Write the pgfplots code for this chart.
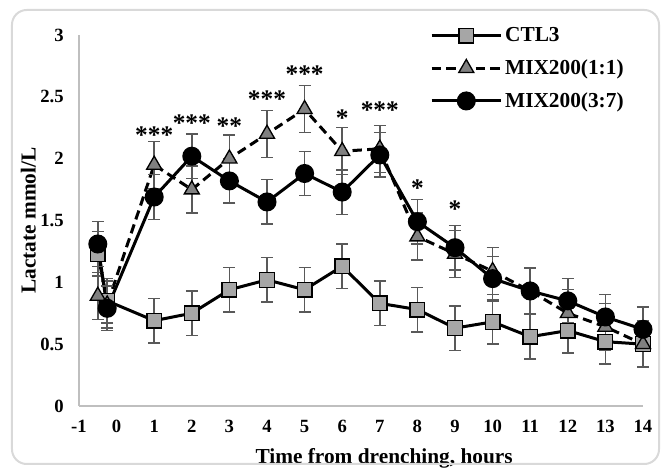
\documentclass[border=0pt]{standalone}
\usepackage{fontspec}
\setmainfont{Liberation Serif}
\usepackage{pgfplots}
\pgfplotsset{compat=1.18}
\usepackage{pgfplotstable}
\pgfplotsset{/pgf/number format/assume math mode=true}

\definecolor{sqfill}{HTML}{A6A6A6}
\definecolor{trifill}{HTML}{808080}
\definecolor{errc}{HTML}{595959}
\definecolor{axc}{HTML}{BFBFBF}
\definecolor{framec}{HTML}{D9D9D9}

% time (h), mean, error
\pgfplotstableread{
x y e
-0.5 1.23 0.18
-0.25 0.85 0.18
1 0.69 0.18
2 0.75 0.18
3 0.94 0.18
4 1.02 0.18
5 0.94 0.18
6 1.13 0.18
7 0.83 0.18
8 0.78 0.18
9 0.63 0.18
10 0.68 0.18
11 0.56 0.18
12 0.61 0.18
13 0.52 0.18
14 0.50 0.18
}\ctl

\pgfplotstableread{
x y e
-0.5 0.89 0.19
-0.25 0.82 0.19
1 1.95 0.19
2 1.75 0.19
3 2.00 0.19
4 2.20 0.19
5 2.40 0.19
6 2.06 0.19
7 2.08 0.19
8 1.37 0.19
9 1.23 0.19
10 1.09 0.19
11 0.93 0.19
12 0.75 0.19
13 0.64 0.19
14 0.50 0.19
}\mixa

\pgfplotstableread{
x y e
-0.5 1.31 0.18
-0.25 0.79 0.18
1 1.69 0.18
2 2.02 0.18
3 1.82 0.18
4 1.65 0.18
5 1.88 0.18
6 1.73 0.18
7 2.03 0.18
8 1.49 0.18
9 1.28 0.18
10 1.03 0.18
11 0.93 0.18
12 0.85 0.18
13 0.72 0.18
14 0.62 0.18
}\mixb

\tikzset{star/.style={font=\bfseries\fontsize{19}{19}\selectfont, inner sep=0pt}}

\begin{document}
\begin{tikzpicture}
\begin{axis}[
    scale only axis,
    width=423pt, height=278.25pt,
    xmin=-1, xmax=14, ymin=0, ymax=3,
    xtick={-1,0,...,14},
    ytick={0,0.5,...,3},
    axis x line*=bottom, axis y line*=left,
    axis line style={axc, line width=1pt},
    major tick length=0pt,
    clip=false,
    ticklabel style={font=\bfseries\fontsize{14}{14}\selectfont},
    yticklabel style={xshift=-8pt},
    xticklabel style={yshift=-7pt},
    xlabel={Time from drenching, hours},
    ylabel={Lactate mmol/L},
    label style={font=\bfseries\fontsize{16}{16}\selectfont},
    xlabel style={at={(axis description cs:0.541,-0.14)}, anchor=center},
    ylabel style={at={(axis description cs:-0.09,0.5)}, anchor=center},
    legend style={draw=none, fill=none, at={(axis description cs:0.615,1.035)}, anchor=north west,
        font=\bfseries\fontsize{16}{16}\selectfont, row sep=8pt},
    legend cell align=left,
    legend image code/.code={%
        \draw[mark repeat=2,mark phase=2] plot coordinates {(0pt,0pt)(26pt,0pt)(52pt,0pt)};},
    error bars/y dir=both,
    error bars/y explicit,
    error bars/error bar style={errc, line width=1.1pt, solid},
    error bars/error mark options={errc, rotate=90, mark size=4.5pt, line width=1.1pt, solid},
]

\addplot[black, line width=2.25pt, mark=square*, mark size=5.5pt,
    mark options={fill=sqfill, draw=black, line width=1pt, solid}]
    table[x=x, y=y, y error=e] {\ctl};
\addlegendentry{CTL3}

\addplot[black, line width=2.25pt, dash pattern=on 7pt off 4pt, mark=triangle*, mark size=6.5pt,
    mark options={fill=trifill, draw=black, line width=1pt, solid}]
    table[x=x, y=y, y error=e] {\mixa};
\addlegendentry{MIX200(1:1)}

\addplot[black, line width=2.25pt, mark=*, mark size=6pt,
    mark options={fill=black, draw=black, solid}]
    table[x=x, y=y, y error=e] {\mixb};
\addlegendentry{MIX200(3:7)}

% significance marks
\node[star] at (axis cs:1,2.19) {***};
\node[star] at (axis cs:2,2.29) {***};
\node[star] at (axis cs:3,2.26) {**};
\node[star] at (axis cs:4,2.48) {***};
\node[star] at (axis cs:5,2.68) {***};
\node[star] at (axis cs:6,2.33) {*};
\node[star] at (axis cs:7,2.39) {***};
\node[star] at (axis cs:8,1.76) {*};
\node[star] at (axis cs:9,1.59) {*};
\end{axis}
% chart-area frame (1px = 0.75pt, origin at the axis corner)
\draw[framec, line width=1.5pt, rounded corners=11pt] (-50.25pt,-43.5pt) rectangle (435pt,297pt);
\path (-59.25pt,-46.5pt) rectangle (437.25pt,304.5pt);
\end{tikzpicture}
\end{document}
